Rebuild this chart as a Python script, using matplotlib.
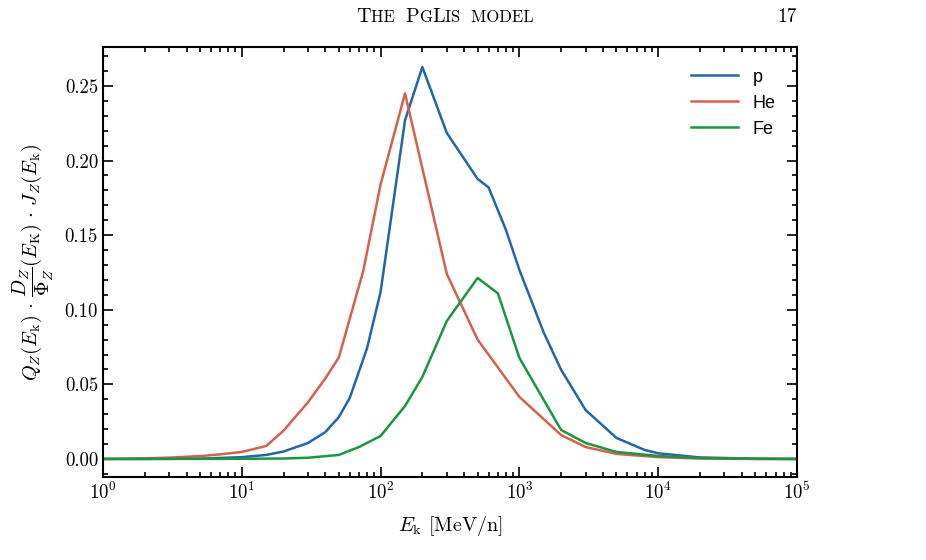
from matplotlib import pyplot as plt
import matplotlib.ticker as tck

plt.rcParams['font.family'] = 'serif'
plt.rcParams['font.serif'] = ['cmr10']
plt.rcParams['mathtext.fontset'] = 'cm'
plt.rcParams['axes.formatter.use_mathtext'] = True

# values
E_p  = [1, 2, 5, 10, 15, 20, 30, 40, 50, 60, 80, 100, 150, 200, 300, 500, 600,
        800, 1000, 1500, 2000, 3000, 5000, 8000, 1e4, 2e4, 5e4, 1e5]
Q_p  = [0.0, 0.0, 0.0002, 0.0012, 0.0027, 0.0050, 0.0107, 0.018, 0.028, 0.041,
        0.0744, 0.112, 0.227, 0.2627, 0.2185, 0.1877, 0.182, 0.1535, 0.1267,
        0.0845, 0.0597, 0.0328, 0.0141, 0.006, 0.0038, 0.001, 0.0002, 0.0]

E_he = [1, 2, 3, 5, 7, 10, 15, 20, 30, 40, 50, 75, 100, 150, 300, 500,
        1000, 2000, 3000, 5000, 1e4, 2e4, 5e4, 1e5]
Q_he = [0.0, 0.0004, 0.0009, 0.0019, 0.0031, 0.0047, 0.0087, 0.019, 0.038, 0.054,
        0.068, 0.126, 0.184, 0.245, 0.124, 0.080, 0.0416, 0.016, 0.008,
        0.0034, 0.0012, 0.0003, 0.0, 0.0]

E_fe = [1, 10, 20, 30, 50, 70, 100, 150, 200, 300, 500, 700, 1000, 2000, 3000,
        5000, 1e4, 2e4, 5e4, 1e5]
Q_fe = [0.0, 0.0001, 0.0003, 0.0008, 0.0027, 0.008, 0.0154, 0.0355, 0.055,
        0.0925, 0.1213, 0.111, 0.0677, 0.0194, 0.0107, 0.0047, 0.002, 0.0006,
        0.0001, 0.0]

c_p, c_he, c_fe = '#2166ac', '#d6604d', '#1a9641'

fig = plt.figure(figsize=(9.26, 5.6), dpi=100)
ax1 = fig.add_axes([0.1112, 0.1482, 0.7495, 0.7678])

ax1.plot(E_p, Q_p, color=c_p, lw=1.8, label='p')
ax1.plot(E_he, Q_he, color=c_he, lw=1.8, label='He')
ax1.plot(E_fe, Q_fe, color=c_fe, lw=1.8, label='Fe')

ax1.set_xscale('log')
ax1.set_xlim(1, 1e5)
ax1.set_ylim(-0.0121, 0.2761)
ax1.yaxis.set_major_locator(tck.MultipleLocator(0.05))
ax1.yaxis.set_minor_locator(tck.MultipleLocator(0.01))
ax1.yaxis.set_major_formatter(tck.FormatStrFormatter('%.2f'))
ax1.xaxis.set_major_locator(tck.LogLocator(base=10, numticks=10))
ax1.xaxis.set_minor_locator(tck.LogLocator(base=10, subs=range(2, 10), numticks=20))
ax1.xaxis.set_minor_formatter(tck.NullFormatter())

ax1.tick_params(which='both', direction='in', top=True, right=True, labelsize=13.5, width=1.2)
ax1.tick_params(which='major', length=7)
ax1.tick_params(which='minor', length=3.5)
for sp in ax1.spines.values():
    sp.set_linewidth(1.5)

ax1.set_xlabel(r'$E_\mathrm{k}$ [MeV/n]', fontsize=14.5, labelpad=8)
ax1.set_ylabel(r'$Q_Z(E_\mathrm{k})\,\cdot\,\dfrac{D_Z}{\Phi_Z}(E_\mathrm{K})\,\cdot\,J_Z(E_\mathrm{k})$',
               fontsize=14.5, labelpad=6)

leg = ax1.legend(loc='upper right', frameon=False, handlelength=2.6,
                 prop={'family': 'Liberation Sans', 'size': 13}, borderaxespad=0.8)

# page header (small caps faked with two sizes)
fig.canvas.draw()
rend = fig.canvas.get_renderer()
x = 356 / 926
for s, size in [('T', 14.5), ('HE  ', 12), ('P', 14.5), ('G', 12), ('L', 14.5), ('IS  MODEL', 12)]:
    t = fig.text(x, 1 - 17 / 560, s, fontsize=size, va='center', ha='left')
    bb = t.get_window_extent(renderer=rend)
    x += bb.width / fig.bbox.width
fig.text(797 / 926, 1 - 17 / 560, '17', fontsize=14, va='center', ha='right')

fig.savefig('out.png', dpi=100)
